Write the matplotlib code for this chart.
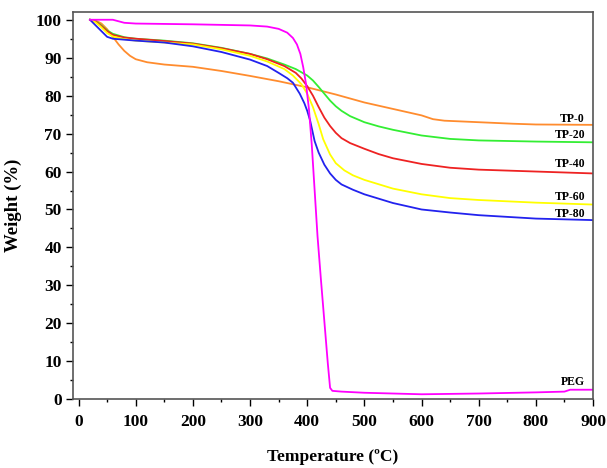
import numpy as np
import matplotlib.pyplot as plt
from matplotlib.ticker import MultipleLocator

plt.rcParams['font.family'] = ['Liberation Serif', 'DejaVu Serif']
plt.rcParams['font.weight'] = 'bold'

# TGA curves (temperature in C, weight in %)
t_tp0 = [20, 30, 40, 50, 60, 70, 80, 90, 100, 120, 150, 200, 250, 300, 350, 400, 450, 500, 550, 600, 620, 640, 700, 760, 800, 900]
w_tp0 = [100, 99.8, 99, 97.5, 95.5, 93.5, 91.8, 90.5, 89.6, 88.8, 88.2, 87.6, 86.5, 85.2, 83.8, 82.2, 80.3, 78.2, 76.5, 74.8, 73.8, 73.4, 73.0, 72.6, 72.4, 72.3]

t_tp20 = [20, 30, 40, 50, 60, 80, 100, 150, 200, 250, 300, 330, 360, 380, 400, 410, 420, 430, 440, 450, 460, 475, 500, 525, 550, 600, 650, 700, 800, 900]
w_tp20 = [100, 99.6, 98.5, 97.2, 96.3, 95.4, 95.0, 94.5, 93.8, 92.6, 91.0, 89.8, 88.2, 87.0, 85.3, 84.0, 82.3, 80.5, 78.7, 77.2, 76.0, 74.6, 73.0, 71.9, 71.0, 69.5, 68.6, 68.2, 67.9, 67.7]

t_tp40 = [20, 30, 40, 50, 60, 80, 100, 150, 200, 250, 300, 330, 360, 380, 390, 400, 410, 420, 430, 440, 450, 460, 475, 500, 525, 550, 600, 650, 700, 800, 900]
w_tp40 = [100, 99.5, 98.3, 97.0, 96.0, 95.3, 95.0, 94.4, 93.7, 92.5, 91.0, 89.6, 87.8, 86.0, 84.5, 82.5, 80.0, 77.0, 74.2, 72.0, 70.2, 68.8, 67.5, 66.0, 64.6, 63.5, 62.0, 61.0, 60.5, 60.0, 59.5]

t_tp60 = [20, 30, 40, 50, 60, 80, 100, 200, 250, 300, 330, 360, 375, 390, 400, 410, 420, 428, 440, 450, 465, 480, 500, 550, 600, 650, 700, 800, 900]
w_tp60 = [100, 99.3, 98.0, 96.5, 95.6, 94.9, 94.5, 93.5, 92.2, 90.5, 89.0, 87.0, 85.3, 83.0, 80.5, 77.0, 72.5, 68.5, 64.5, 62.2, 60.3, 59.0, 57.8, 55.5, 54.0, 53.0, 52.5, 51.8, 51.3]

t_tp80 = [20, 30, 40, 50, 60, 100, 150, 200, 250, 300, 330, 350, 365, 375, 387, 395, 400, 405, 413, 420, 430, 440, 450, 460, 480, 500, 550, 600, 650, 700, 800, 900]
w_tp80 = [100, 98.5, 97.0, 95.5, 95.0, 94.5, 94.0, 93.0, 91.5, 89.5, 87.8, 86.0, 84.6, 83.4, 80.5, 78.0, 76.0, 73.5, 68.0, 65.0, 61.8, 59.5, 57.8, 56.6, 55.2, 54.0, 51.7, 50.0, 49.2, 48.5, 47.6, 47.2]

t_peg = [20, 60, 70, 80, 100, 200, 300, 330, 350, 365, 375, 382, 388, 393, 398, 403, 408, 413, 418, 424, 430, 436, 440, 444, 460, 500, 600, 700, 800, 850, 860, 900]
w_peg = [100, 100, 99.6, 99.2, 99.0, 98.8, 98.5, 98.2, 97.6, 96.6, 95.2, 93.5, 91.0, 87.5, 83.0, 76.5, 67.0, 55.0, 43.0, 31.5, 20.5, 9.5, 3.0, 2.2, 2.0, 1.7, 1.3, 1.5, 1.8, 2.0, 2.5, 2.5]

series = [
    (t_tp0, w_tp0, '#ff8c2e', 'TP-0', 73.9),
    (t_tp20, w_tp20, '#33ee33', 'TP-20', 69.5),
    (t_tp40, w_tp40, '#ee2222', 'TP-40', 62.1),
    (t_tp60, w_tp60, '#ffff00', 'TP-60', 53.2),
    (t_tp80, w_tp80, '#2222ee', 'TP-80', 48.9),
    (t_peg, w_peg, '#ff00ff', 'PEG', 4.5),
]

fig = plt.figure(figsize=(6.07, 4.68), dpi=100)
ax = fig.add_axes([0.120, 0.147, 0.857, 0.827])

for t, w, c, name, ly in series:
    ax.plot(t, w, color=c, lw=1.3, solid_joinstyle='round')
    ax.text(886, ly, name, ha='right', va='center', fontsize=8.5, fontweight='bold')

ax.set_xlim(-10, 900)
ax.set_ylim(0, 102)
ax.xaxis.set_major_locator(MultipleLocator(100))
ax.xaxis.set_minor_locator(MultipleLocator(50))
ax.yaxis.set_major_locator(MultipleLocator(10))
ax.yaxis.set_minor_locator(MultipleLocator(5))
ax.tick_params(which='major', direction='out', length=5, width=1, labelsize=12.5)
ax.tick_params(axis='x', which='major', pad=6)
ax.tick_params(axis='y', which='major', pad=3)
ax.tick_params(which='minor', direction='out', length=2.5, width=1)
for lab in ax.get_xticklabels() + ax.get_yticklabels():
    lab.set_fontweight('bold')
for s in ax.spines.values():
    s.set_color('#555555')
    s.set_linewidth(1.2)

ax.set_xlabel('Temperature (ºC)', fontsize=12.5, fontweight='bold', labelpad=13)
ax.set_ylabel('Weight (%)', fontsize=13.5, fontweight='bold', labelpad=10)

fig.savefig('out.png', dpi=100)
